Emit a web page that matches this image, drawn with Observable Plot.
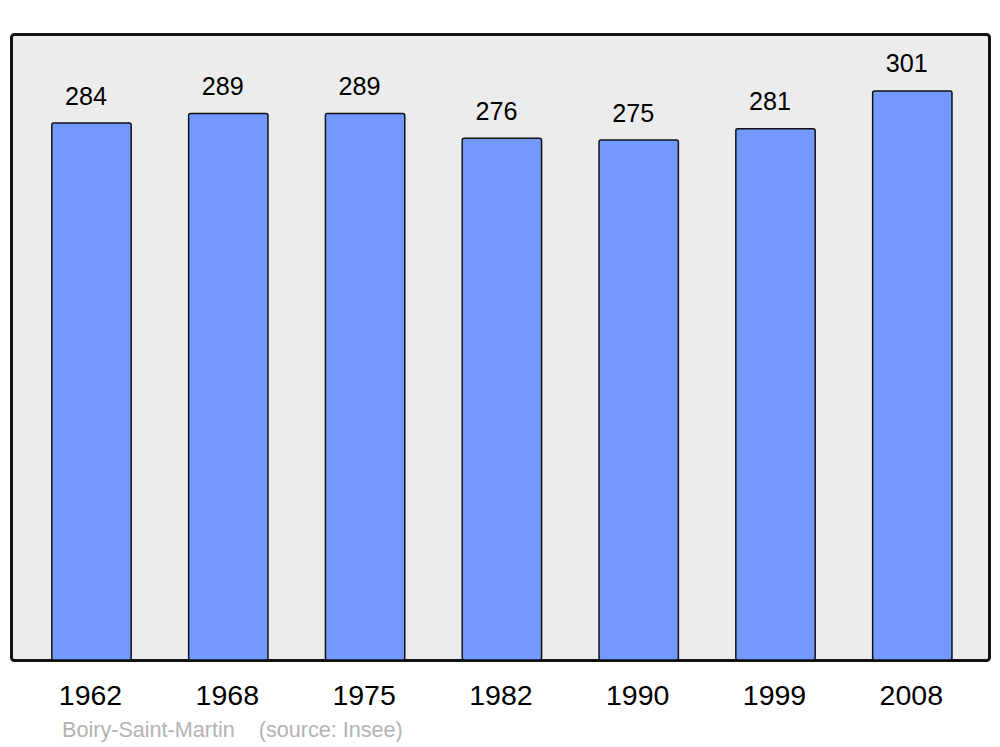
<!DOCTYPE html>
<html>
<head>
<meta charset="utf-8">
<script src="https://cdn.jsdelivr.net/npm/d3@7"></script>
<script src="https://cdn.jsdelivr.net/npm/@observablehq/plot@0.6"></script>
<style>
  html, body { margin: 0; padding: 0; background: #fff; }
  #wrap { position: relative; width: 1000px; height: 747px; font-family: "Liberation Sans", Arial, sans-serif; }
  #caption { position: absolute; left: 62px; top: 719px; font-size: 21.6px; line-height: 1; color: #b3b3b3; white-space: pre; }
</style>
</head>
<body>
<div id="wrap"><div id="chart"></div><div id="caption">Boiry-Saint-Martin    (source: Insee)</div></div>
<script>
const years = ["1962", "1968", "1975", "1982", "1990", "1999", "2008"];
const population = [284, 289, 289, 276, 275, 281, 301];

const data = years.map((y, i) => ({year: y, pop: population[i]}));
const yMax = d3.max(population) * 1.1;

const chart = Plot.plot({
  width: 1000,
  height: 712,
  marginTop: 34,
  marginBottom: 52,
  marginLeft: 11,
  marginRight: 11,
  style: {fontFamily: "'Liberation Sans', Arial, sans-serif", background: "transparent", color: "#000"},
  x: {domain: years, range: [23.1, 980.7], paddingInner: 0.42, paddingOuter: 0.21, round: false, label: null},
  y: {domain: [0, yMax], axis: null},
  marks: [
    Plot.frame({fill: "#ececec", stroke: "#111", strokeWidth: 3, rx: 3}),
    Plot.barY(data, {x: "year", y: "pop", fill: "#7399ff", stroke: "#111", strokeWidth: 1.5, rx: 2}),
    Plot.text(data, {x: "year", y: "pop", text: d => String(d.pop), dy: -27, dx: -6, fontSize: 25.2, fill: "#000"}),
    Plot.axisX({tickSize: 0, tickPadding: 24, fontSize: 28.5, dx: -1.5, fill: "#000"})
  ]
});
document.getElementById("chart").appendChild(chart);
</script>
</body>
</html>
